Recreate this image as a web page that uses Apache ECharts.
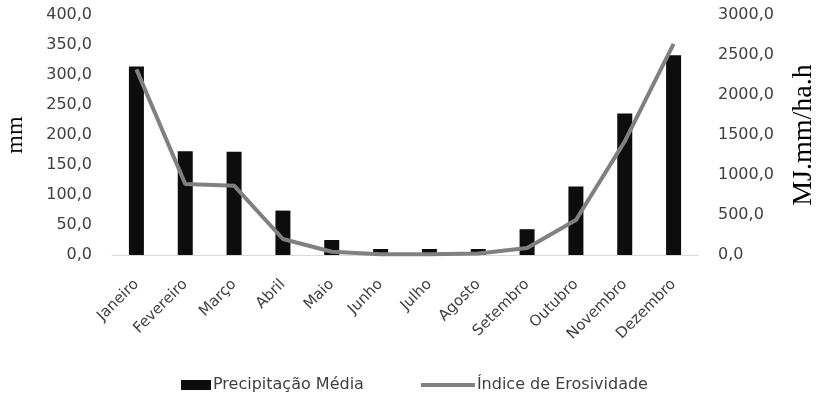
<!DOCTYPE html>
<html><head><meta charset="utf-8">
<script src="https://cdn.jsdelivr.net/npm/echarts@6/dist/echarts.min.js"></script>
<style>html,body{margin:0;padding:0;background:#fff}#c{width:818px;height:405px}</style>
</head><body><div id="c"></div>
<script>
const categories = ['Janeiro','Fevereiro','Março','Abril','Maio','Junho','Julho','Agosto','Setembro','Outubro','Novembro','Dezembro'];
const precipitacao = [314, 173, 172, 74, 25, 10, 10, 10, 43, 114, 236, 333];
const erosividade = [2320, 887, 866, 200, 41, 10, 10, 20, 87, 437, 1420, 2640];
const leftTicks = {min: 0, max: 400, interval: 50};
const rightTicks = {min: 0, max: 3000, interval: 500};
const font = '"DejaVu Sans", sans-serif';
const fmt = v => v.toFixed(1).replace('.', ',');
const chart = echarts.init(document.getElementById('c'));
chart.setOption({
  animation: false,
  grid: {left: 112, right: 120, top: 15, bottom: 150, outerBoundsMode: 'none', containLabel: false},
  legend: {
    bottom: 7, left: 152, itemGap: 57, itemWidth: 54, itemHeight: 10,
    textStyle: {fontFamily: font, fontSize: 16, color: '#404040', padding: [0, 0, 0, -3]},
    data: [
      {name: 'Precipitação Média', icon: 'path://M0,0L0,0M24,0H54V10H24Z'},
      {name: 'Índice de Erosividade', icon: 'path://M0,0L0,0M0,3H54V7H0ZM54,10L54,10', itemStyle: {color: '#808080'}}
    ]
  },
  xAxis: {
    type: 'category', data: categories,
    axisLine: {lineStyle: {color: '#d9d9d9', width: 1}},
    axisTick: {show: false},
    axisLabel: {rotate: 45, fontFamily: font, fontSize: 15, color: '#404040', margin: 27, interval: 0}
  },
  yAxis: [{
    type: 'value', min: leftTicks.min, max: leftTicks.max, interval: leftTicks.interval,
    name: 'mm', nameLocation: 'middle', nameGap: 84, nameRotate: 90,
    nameTextStyle: {fontFamily: '"Liberation Serif", serif', fontSize: 24, color: '#000'},
    splitLine: {show: false}, axisLine: {show: false}, axisTick: {show: false},
    axisLabel: {formatter: fmt, fontFamily: font, fontSize: 16, color: '#404040', margin: 20}
  }, {
    type: 'value', min: rightTicks.min, max: rightTicks.max, interval: rightTicks.interval,
    name: 'MJ.mm/ha.h', nameLocation: 'middle', nameGap: 92, nameRotate: 90,
    nameTextStyle: {fontFamily: '"Liberation Serif", serif', fontSize: 28, color: '#000'},
    splitLine: {show: false}, axisLine: {show: false}, axisTick: {show: false},
    axisLabel: {formatter: fmt, fontFamily: font, fontSize: 16, color: '#404040', margin: 20}
  }],
  series: [{
    name: 'Precipitação Média', type: 'bar', data: precipitacao, yAxisIndex: 0,
    barWidth: 15, itemStyle: {color: '#0d0d0d'}
  }, {
    name: 'Índice de Erosividade', type: 'line', data: erosividade, yAxisIndex: 1,
    showSymbol: false, symbol: 'none', lineStyle: {color: '#808080', width: 4}, itemStyle: {color: '#808080'}
  }]
});
</script></body></html>
